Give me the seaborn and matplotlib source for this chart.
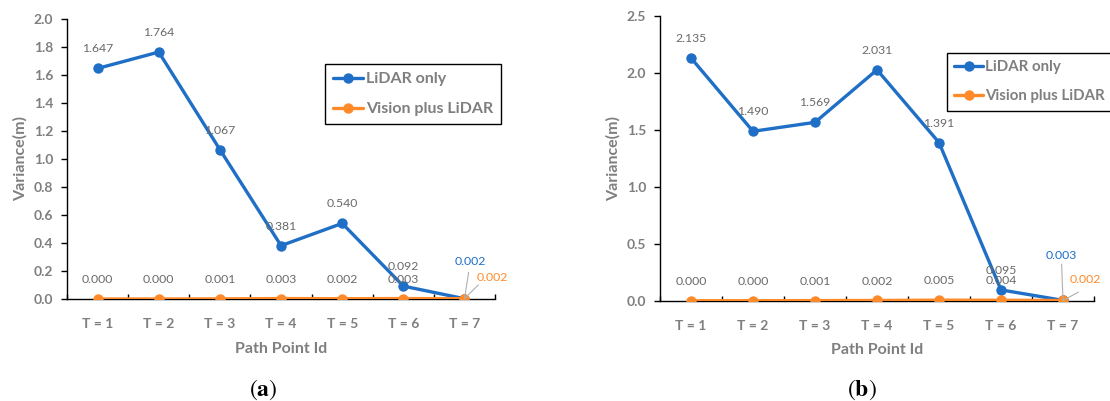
import matplotlib
matplotlib.use("Agg")
import matplotlib.pyplot as plt
import seaborn as sns
import pandas as pd

# Path points along the trajectory
categories = ["T = 1", "T = 2", "T = 3", "T = 4", "T = 5", "T = 6", "T = 7"]
series_names = ["LiDAR only", "Vision plus LiDAR"]

# Scenario (a)
lidar_a = [1.647, 1.764, 1.067, 0.381, 0.540, 0.092, 0.002]
vision_a = [0.000, 0.000, 0.001, 0.003, 0.002, 0.003, 0.002]

# Scenario (b)
lidar_b = [2.135, 1.490, 1.569, 2.031, 1.391, 0.095, 0.003]
vision_b = [0.000, 0.000, 0.001, 0.002, 0.005, 0.004, 0.002]

panel_labels = ["a", "b"]
y_limits = [(0.0, 2.0), (0.0, 2.5)]
y_steps = [0.2, 0.5]

BLUE = "#1F6FC6"
ORANGE = "#FF8A2A"
GREY = "#7F7F7F"
LABEL_GREY = "#6A6A6A"

sns.set_theme(style="white")
plt.rcParams["font.family"] = ["Lato", "DejaVu Sans"]
plt.rcParams["mathtext.fontset"] = "stix"

fig = plt.figure(figsize=(11.1, 4.01), dpi=100)
axes = [
    fig.add_axes([0.0604, 0.2544, 0.3856, 0.6982]),
    fig.add_axes([0.5946, 0.2501, 0.3910, 0.7088]),
]
legend_anchor = [(0.603, 0.839), (0.661, 0.872)]
legend_size = [11.5, 10.8]
caption_x = [0.237, 0.7766]

# offsets (points) for the annotations at the last path point
last_offsets = [
    {"blue": (4, 27), "orange": (20, 15), "blue_lead": (3, 19), "orange_lead": (10, 10)},
    {"blue": (-1, 32), "orange": (16, 15), "blue_lead": (-1, 26), "orange_lead": (11, 6)},
]

datasets = [(lidar_a, vision_a), (lidar_b, vision_b)]

for k, ax in enumerate(axes):
    lidar, vision = datasets[k]
    n = len(categories)
    df = pd.DataFrame({
        "pos": list(range(n)) * 2,
        "value": lidar + vision,
        "series": [series_names[0]] * n + [series_names[1]] * n,
    })
    sns.lineplot(
        data=df, x="pos", y="value", hue="series", hue_order=series_names,
        palette=[BLUE, ORANGE], marker="o", markersize=7.5, markeredgewidth=0,
        linewidth=2.4, ax=ax, legend=True,
    )

    ax.set_xlim(-0.5, n - 0.5)
    lo, hi = y_limits[k]
    ax.set_ylim(lo, hi)
    step = y_steps[k]
    ticks = [round(lo + i * step, 2) for i in range(int(round((hi - lo) / step)) + 1)]
    ax.set_yticks(ticks)
    ax.set_yticklabels([f"{t:.1f}" for t in ticks])
    ax.set_xticks(range(n))
    ax.set_xticklabels(categories)
    ax.set_xticks([i + 0.5 for i in range(-1, n)], minor=True)

    for side in ["top", "right"]:
        ax.spines[side].set_visible(False)
    for side in ["left", "bottom"]:
        ax.spines[side].set_color("black")
        ax.spines[side].set_linewidth(1.0)
        ax.spines[side].set_zorder(1)

    ax.tick_params(axis="x", which="major", length=0, pad=14,
                   labelsize=10, labelcolor=GREY)
    ax.tick_params(axis="x", which="minor", direction="in", length=3.5,
                   width=1.0, color="black", bottom=True)
    ax.tick_params(axis="y", which="major", direction="out", length=4,
                   width=1.0, color="black", left=True, pad=6,
                   labelsize=10, labelcolor=GREY)
    for lab in ax.get_xticklabels() + ax.get_yticklabels():
        lab.set_fontweight("bold")

    ax.set_xlabel("Path Point Id", fontsize=11.5, fontweight="bold",
                  color=GREY, labelpad=8)
    ax.set_ylabel("Variance(m)", fontsize=11.5, fontweight="bold",
                  color=GREY, labelpad=4)
    ax.grid(False)
    ax.set_facecolor("white")

    # value labels
    for i in range(n - 1):
        ax.annotate(f"{lidar[i]:.3f}", (i, lidar[i]), xytext=(0, 14),
                    textcoords="offset points", ha="center", va="center",
                    fontsize=8.8, color=LABEL_GREY)
        ax.annotate(f"{vision[i]:.3f}", (i, vision[i]), xytext=(0, 14),
                    textcoords="offset points", ha="center", va="center",
                    fontsize=8.8, color=LABEL_GREY)

    off = last_offsets[k]
    j = n - 1
    ax.annotate("", (j, lidar[j]), xytext=off["blue_lead"],
                textcoords="offset points",
                arrowprops=dict(arrowstyle="-", color="#B0B0B0", lw=0.8,
                                shrinkA=0, shrinkB=0))
    ax.annotate(f"{lidar[j]:.3f}", (j, lidar[j]), xytext=off["blue"],
                textcoords="offset points", ha="center", va="center",
                fontsize=8.8, color=BLUE)
    ax.annotate("", (j, vision[j]), xytext=off["orange_lead"],
                textcoords="offset points",
                arrowprops=dict(arrowstyle="-", color="#B0B0B0", lw=0.8,
                                shrinkA=0, shrinkB=0))
    ax.annotate(f"{vision[j]:.3f}", (j, vision[j]), xytext=off["orange"],
                textcoords="offset points", ha="center", va="center",
                fontsize=8.8, color=ORANGE)

    leg = ax.legend(
        loc="upper left", bbox_to_anchor=legend_anchor[k], frameon=True,
        fancybox=False, edgecolor="black", framealpha=1.0,
        prop={"family": "Lato", "weight": "bold", "size": legend_size[k]},
        handlelength=1.9, handletextpad=0.15, labelspacing=1.0,
        borderpad=0.5, borderaxespad=0.0,
    )
    leg.get_frame().set_linewidth(1.0)
    for txt in leg.get_texts():
        txt.set_color(GREY)

    fig.text(caption_x[k], 0.028, rf"$(\mathbf{{{panel_labels[k]}}})$",
             ha="center", va="center", fontsize=17, color="black")

fig.savefig("out.png", dpi=100, facecolor="white")
